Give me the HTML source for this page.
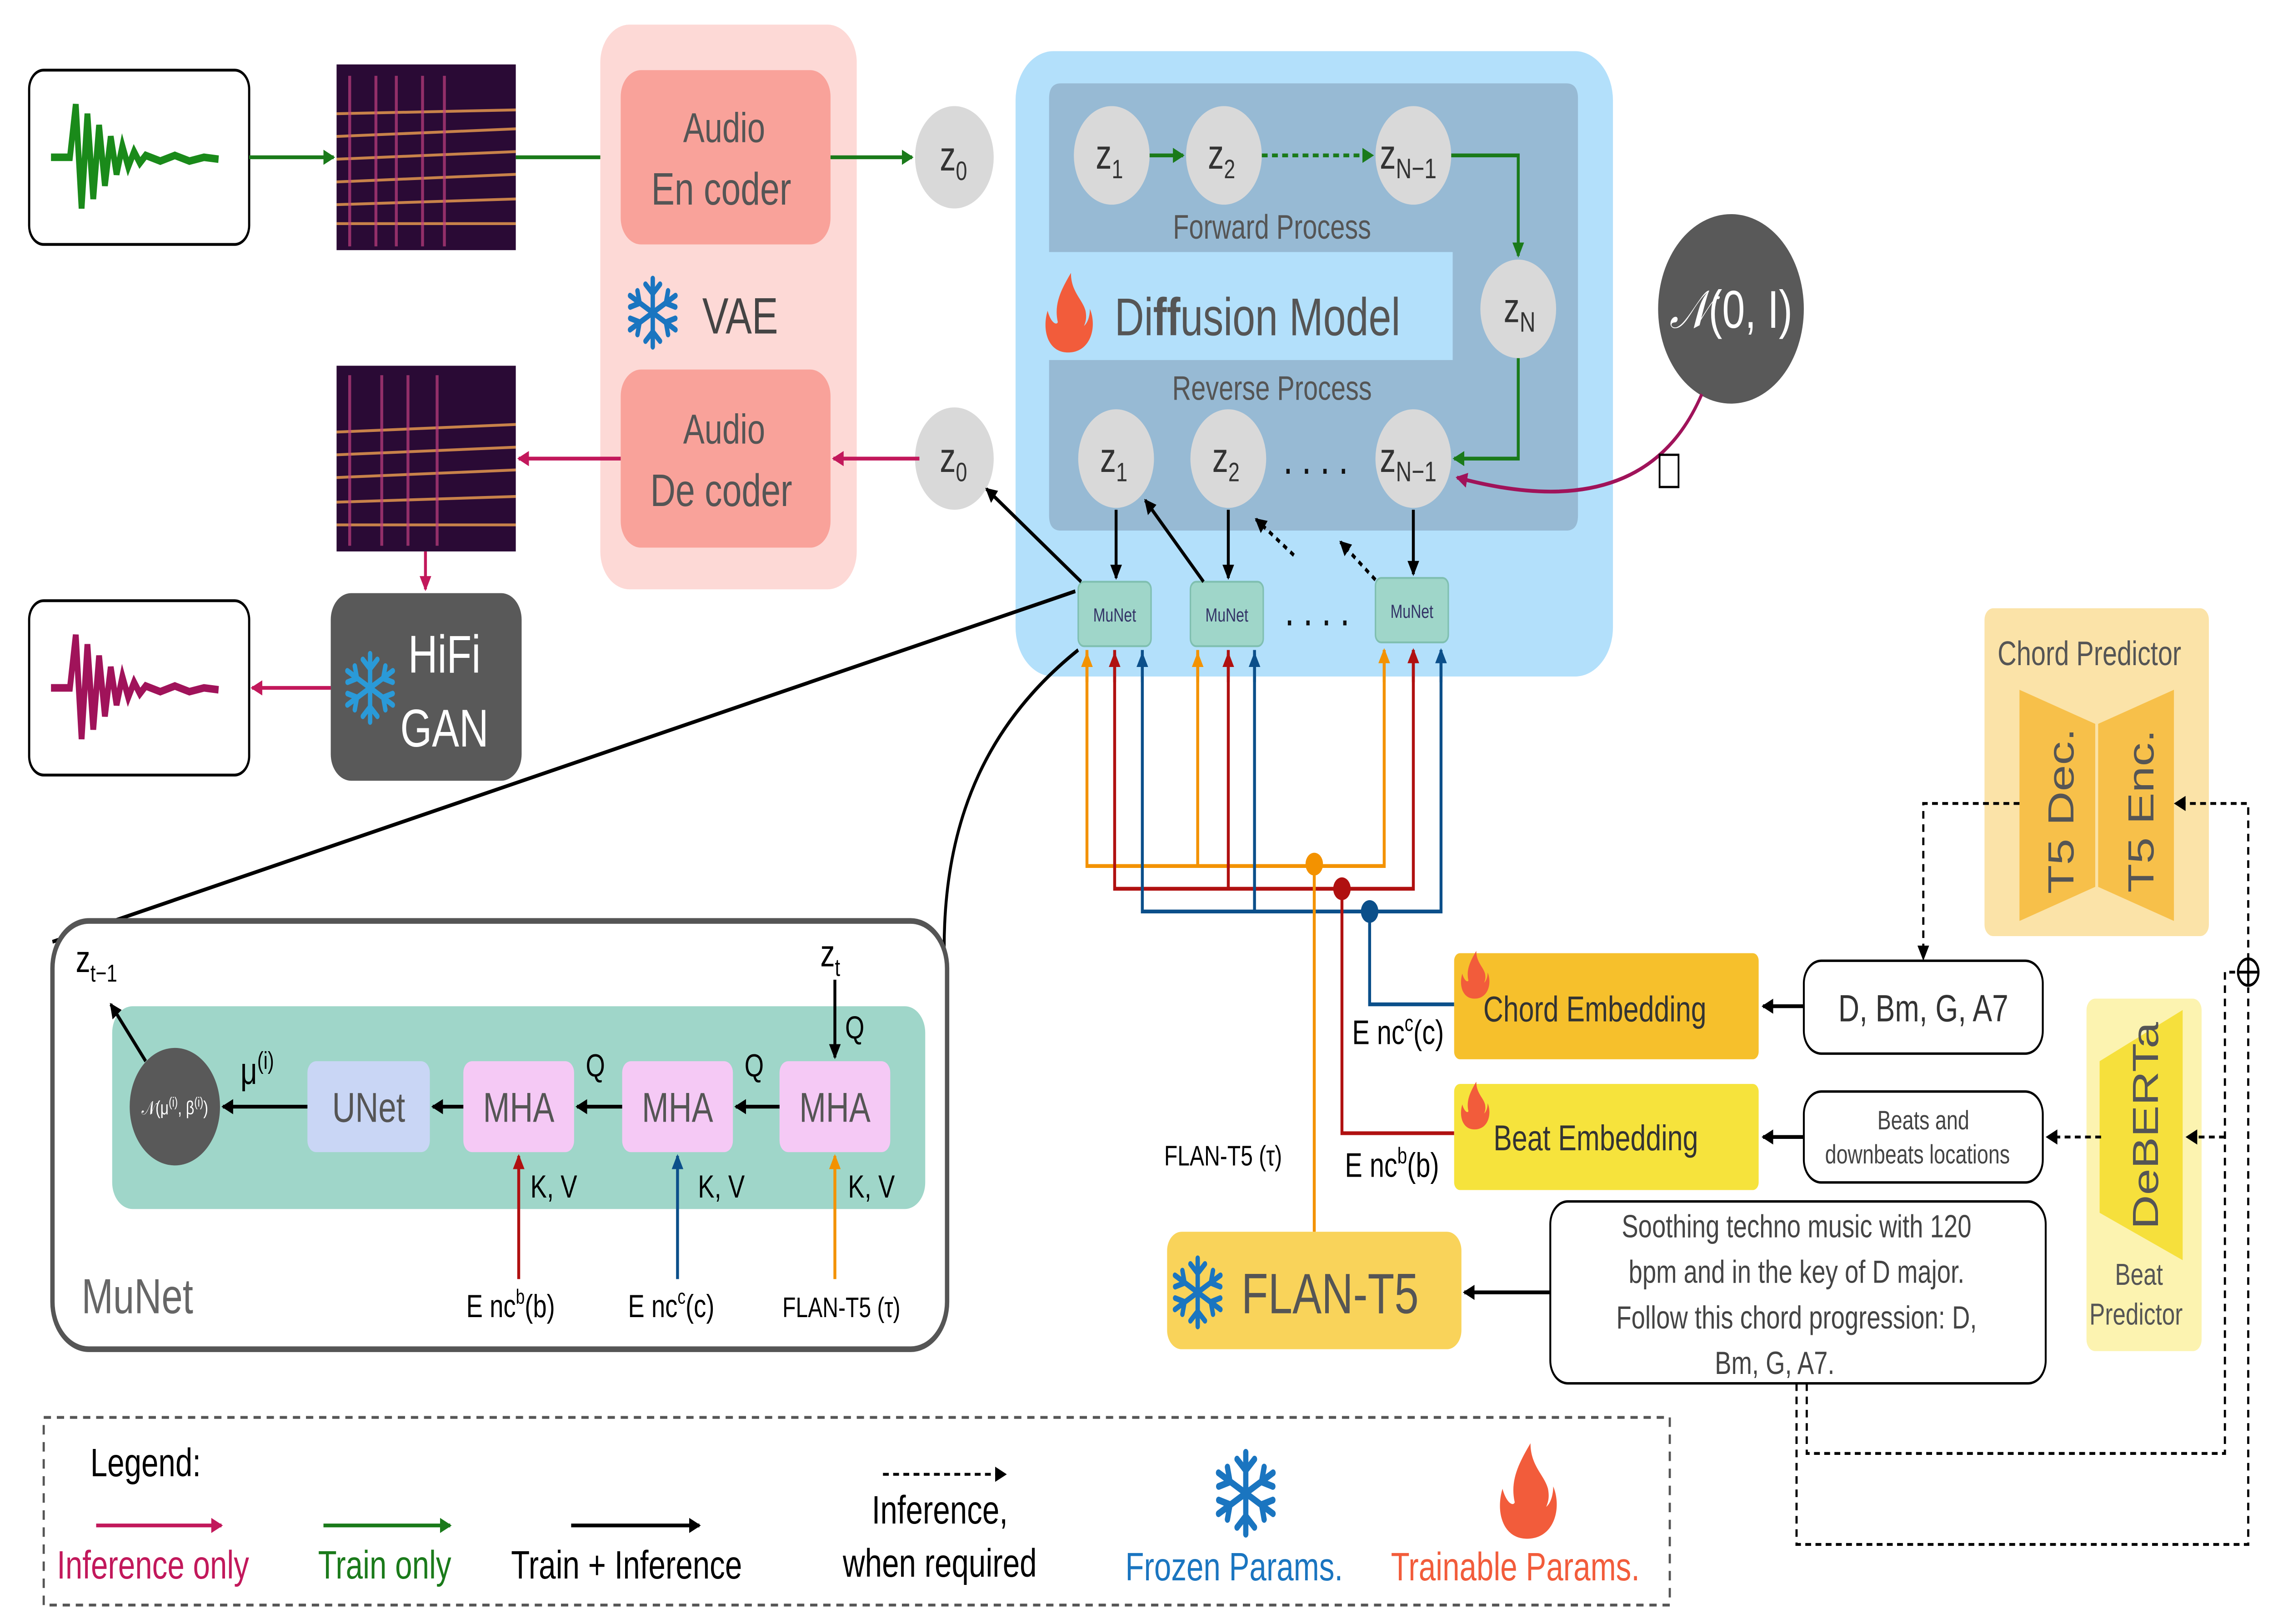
<!DOCTYPE html>
<html><head><meta charset="utf-8"><style>
html,body{margin:0;padding:0;background:#fff;width:100%;height:100%;overflow:hidden}
svg{display:block;position:fixed;left:0;top:0;width:100vw;height:100vh}
text{font-family:"Liberation Sans","DejaVu Sans",sans-serif}
</style></head><body>
<svg viewBox="0 0 1560 857" preserveAspectRatio="none" xmlns="http://www.w3.org/2000/svg">
<defs>
<marker id="ag" markerWidth="8" markerHeight="8" refX="7" refY="4" orient="auto" markerUnits="userSpaceOnUse"><path d="M0,0 L8,4 L0,8 z" fill="#1a7a1a"/></marker>
<marker id="ap" markerWidth="8" markerHeight="8" refX="7" refY="4" orient="auto" markerUnits="userSpaceOnUse"><path d="M0,0 L8,4 L0,8 z" fill="#c2185b"/></marker>
<marker id="ak" markerWidth="8" markerHeight="8" refX="7" refY="4" orient="auto" markerUnits="userSpaceOnUse"><path d="M0,0 L8,4 L0,8 z" fill="#000"/></marker>
<marker id="ao" markerWidth="8" markerHeight="8" refX="7" refY="4" orient="auto" markerUnits="userSpaceOnUse"><path d="M0,0 L8,4 L0,8 z" fill="#f39200"/></marker>
<marker id="ar" markerWidth="8" markerHeight="8" refX="7" refY="4" orient="auto" markerUnits="userSpaceOnUse"><path d="M0,0 L8,4 L0,8 z" fill="#b01010"/></marker>
<marker id="ab" markerWidth="8" markerHeight="8" refX="7" refY="4" orient="auto" markerUnits="userSpaceOnUse"><path d="M0,0 L8,4 L0,8 z" fill="#0b4f8a"/></marker>
<marker id="am" markerWidth="8" markerHeight="8" refX="7" refY="4" orient="auto" markerUnits="userSpaceOnUse"><path d="M0,0 L8,4 L0,8 z" fill="#a0135a"/></marker>
<g id="snow" stroke-linecap="round" fill="none" stroke-width="3">
<line x1="0" y1="-18" x2="0" y2="18"/><line x1="-15.6" y1="-9" x2="15.6" y2="9"/><line x1="-15.6" y1="9" x2="15.6" y2="-9"/>
<path d="M-5,-15 L0,-10 L5,-15 M-5,15 L0,10 L5,15 M-15.5,-3 L-9,-5 L-10.5,-11.5 M15.5,3 L9,5 L10.5,11.5 M-15.5,3 L-9,5 L-10.5,11.5 M15.5,-3 L9,-5 L10.5,-11.5"/>
</g>
<g id="flame"><path d="M0,20 C-14,20 -18,8 -14,-2 C-12,4 -8,6 -7,4 C-10,-6 -4,-14 2,-22 C2,-12 10,-8 12,-2 C13,2 12,4 11,6 C14,4 15,0 15,-3 C20,6 16,20 0,20 Z" fill="#f25c3b"/></g>
</defs>

<rect x="20" y="37" width="151" height="92" rx="10" fill="#fff" stroke="#000" stroke-width="1.5"/>
<path d="M35,83 L48,83 L52,55 L56,110 L60,60 L64,105 L68,66 L72,98 L76,72 L80,92 L84,77 L88,88 L92,80 L96,86 L100,82 L110,85 L120,82 L130,85 L140,83 L150,84" fill="none" stroke="#1a8a1a" stroke-width="4"/>
<rect x="231" y="34" width="123" height="98" fill="#2a0a35"/>
<g stroke="#f0a050" stroke-width="1.5" opacity="0.8">
<line x1="231" y1="118" x2="354" y2="118"/><line x1="231" y1="108" x2="354" y2="105"/><line x1="231" y1="96" x2="354" y2="92"/><line x1="231" y1="84" x2="354" y2="80"/><line x1="231" y1="72" x2="354" y2="68"/><line x1="231" y1="60" x2="354" y2="58"/>
</g>
<g stroke="#c04080" stroke-width="2" opacity="0.7">
<line x1="240" y1="40" x2="240" y2="130"/><line x1="258" y1="40" x2="258" y2="130"/><line x1="272" y1="40" x2="272" y2="130"/><line x1="290" y1="40" x2="290" y2="130"/><line x1="305" y1="40" x2="305" y2="130"/>
</g>
<line x1="171" y1="83" x2="229" y2="83" stroke="#1a7a1a" stroke-width="2" marker-end="url(#ag)"/>
<line x1="354" y1="83" x2="424" y2="83" stroke="#1a7a1a" stroke-width="2" marker-end="url(#ag)"/>

<rect x="412" y="13" width="176" height="298" rx="20" fill="#fdd9d6"/>
<rect x="426" y="37" width="144" height="92" rx="14" fill="#f9a29a"/>
<text x="497" y="75" font-size="22" fill="#555" text-anchor="middle">Audio</text>
<text x="495" y="108" font-size="24" fill="#555" text-anchor="middle">En coder</text>
<rect x="426" y="195" width="144" height="94" rx="14" fill="#f9a29a"/>
<text x="497" y="234" font-size="22" fill="#555" text-anchor="middle">Audio</text>
<text x="495" y="267" font-size="24" fill="#555" text-anchor="middle">De coder</text>
<use href="#snow" x="448" y="165" stroke="#1a75c0"/>
<text x="482" y="176" font-size="27" fill="#444">VAE</text>
<line x1="570" y1="83" x2="626" y2="83" stroke="#1a7a1a" stroke-width="2" marker-end="url(#ag)"/>

<rect x="697" y="27" width="410" height="330" rx="26" fill="#b3e0fb"/>
<path d="M728,44 H1075 Q1083,44 1083,52 V272 Q1083,280 1075,280 H728 Q720,280 720,272 V190 H997 V133 H720 V52 Q720,44 728,44 Z" fill="#97bad4"/>
<use href="#flame" x="733" y="166"/>
<text x="765" y="177" font-size="28" fill="#555">Di<tspan font-weight="bold">ff</tspan>usion  Model</text>
<text x="873" y="126" font-size="18" fill="#555" text-anchor="middle">Forward  Process</text>
<text x="873" y="211" font-size="18" fill="#555" text-anchor="middle">Reverse  Process</text>
<g fill="#d9d9d9">
<circle cx="655" cy="83" r="27"/><circle cx="763" cy="82" r="26"/><circle cx="840" cy="82" r="26"/><circle cx="970" cy="82" r="26"/><circle cx="1042" cy="163" r="26"/>
<circle cx="655" cy="242" r="27"/><circle cx="766" cy="242" r="26"/><circle cx="843" cy="242" r="26"/><circle cx="970" cy="242" r="26"/>
</g>
<g font-size="22" fill="#333">
<text x="645" y="90">z<tspan font-size="14" dy="5">0</tspan></text>
<text x="752" y="89">z<tspan font-size="14" dy="5">1</tspan></text>
<text x="829" y="89">z<tspan font-size="14" dy="5">2</tspan></text>
<text x="947" y="89">z<tspan font-size="15" dy="5">N−1</tspan></text>
<text x="1032" y="170">z<tspan font-size="15" dy="5">N</tspan></text>
<text x="645" y="249">z<tspan font-size="14" dy="5">0</tspan></text>
<text x="755" y="249">z<tspan font-size="14" dy="5">1</tspan></text>
<text x="832" y="249">z<tspan font-size="14" dy="5">2</tspan></text>
<text x="947" y="249">z<tspan font-size="15" dy="5">N−1</tspan></text>
</g>
<line x1="789" y1="82" x2="812" y2="82" stroke="#1a7a1a" stroke-width="2" marker-end="url(#ag)"/>
<line x1="866" y1="82" x2="942" y2="82" stroke="#1a7a1a" stroke-width="2" stroke-dasharray="4,3" marker-end="url(#ag)"/>
<polyline points="996,82 1042,82 1042,135" fill="none" stroke="#1a7a1a" stroke-width="2" marker-end="url(#ag)"/>
<polyline points="1042,189 1042,242 998,242" fill="none" stroke="#1a7a1a" stroke-width="2" marker-end="url(#ag)"/>
<text x="906" y="250" font-size="24" fill="#111" text-anchor="middle" letter-spacing="6">....</text>
<text x="907" y="330" font-size="24" fill="#111" text-anchor="middle" letter-spacing="6">....</text>
<circle cx="1188" cy="163" r="50" fill="#595959"/>
<text x="1188" y="173" font-size="28" fill="#fff" text-anchor="middle" font-family="Liberation Serif,serif"><tspan font-style="italic">𝒩</tspan>(0, I)</text>
<path d="M1168,208 C1150,240 1110,275 1000,252" fill="none" stroke="#a0135a" stroke-width="2" marker-end="url(#am)"/>
<rect x="1139" y="240" width="13" height="17" fill="none" stroke="#000" stroke-width="1.2"/>
<g fill="#9fd6c9" stroke="#7fbfb0"><rect x="740" y="307" width="50" height="34" rx="4"/><rect x="817" y="307" width="50" height="34" rx="4"/><rect x="944" y="305" width="50" height="34" rx="4"/></g>
<g font-size="10" fill="#336" text-anchor="middle"><text x="765" y="328">MuNet</text><text x="842" y="328">MuNet</text><text x="969" y="326">MuNet</text></g>
<line x1="766" y1="269" x2="766" y2="305" stroke="#000" stroke-width="2" marker-end="url(#ak)"/>
<line x1="843" y1="269" x2="843" y2="305" stroke="#000" stroke-width="2" marker-end="url(#ak)"/>
<line x1="970" y1="269" x2="970" y2="303" stroke="#000" stroke-width="2" marker-end="url(#ak)"/>
<line x1="742" y1="307" x2="677" y2="258" stroke="#000" stroke-width="2" marker-end="url(#ak)"/>
<line x1="826" y1="307" x2="786" y2="264" stroke="#000" stroke-width="2" marker-end="url(#ak)"/>
<line x1="888" y1="293" x2="862" y2="274" stroke="#000" stroke-width="2" stroke-dasharray="3,3" marker-end="url(#ak)"/>
<line x1="944" y1="306" x2="920" y2="286" stroke="#000" stroke-width="2" stroke-dasharray="3,3" marker-end="url(#ak)"/>
<line x1="631" y1="242" x2="572" y2="242" stroke="#c2185b" stroke-width="2" marker-end="url(#ap)"/>
<line x1="426" y1="242" x2="356" y2="242" stroke="#c2185b" stroke-width="2" marker-end="url(#ap)"/>

<rect x="231" y="193" width="123" height="98" fill="#2a0a35"/>
<g stroke="#f0a050" stroke-width="1.5" opacity="0.8">
<line x1="231" y1="277" x2="354" y2="277"/><line x1="231" y1="265" x2="354" y2="262"/><line x1="231" y1="252" x2="354" y2="248"/><line x1="231" y1="240" x2="354" y2="236"/><line x1="231" y1="228" x2="354" y2="224"/>
</g>
<g stroke="#c04080" stroke-width="2" opacity="0.7"><line x1="240" y1="198" x2="240" y2="288"/><line x1="262" y1="198" x2="262" y2="288"/><line x1="280" y1="198" x2="280" y2="288"/><line x1="300" y1="198" x2="300" y2="288"/></g>
<line x1="292" y1="291" x2="292" y2="311" stroke="#c2185b" stroke-width="2" marker-end="url(#ap)"/>
<rect x="227" y="313" width="131" height="99" rx="14" fill="#595959"/>
<use href="#snow" x="254" y="363" stroke="#2a9ad8"/>
<text x="305" y="355" font-size="28" fill="#fff" text-anchor="middle">HiFi</text>
<text x="305" y="394" font-size="28" fill="#fff" text-anchor="middle">GAN</text>
<line x1="227" y1="363" x2="173" y2="363" stroke="#c2185b" stroke-width="2" marker-end="url(#ap)"/>
<rect x="20" y="317" width="151" height="92" rx="10" fill="#fff" stroke="#000" stroke-width="1.5"/>
<path d="M35,363 L48,363 L52,335 L56,390 L60,340 L64,385 L68,346 L72,378 L76,352 L80,372 L84,357 L88,368 L92,360 L96,366 L100,362 L110,365 L120,362 L130,365 L140,363 L150,364" fill="none" stroke="#a0135a" stroke-width="4"/>

<path d="M738,312 L36,497" stroke="#000" stroke-width="2" fill="none"/>
<path d="M740,343 C680,380 648,430 648,500" stroke="#000" stroke-width="2" fill="none"/>
<rect x="36" y="486" width="614" height="226" rx="25" fill="#fff" stroke="#555" stroke-width="3"/>
<rect x="77" y="531" width="558" height="107" rx="14" fill="#9fd6c9"/>
<circle cx="120" cy="584" r="31" fill="#595959"/>
<text x="120" y="588" font-size="10" fill="#fff" text-anchor="middle" font-family="Liberation Serif,serif">𝒩(μ<tspan font-size="7" dy="-4">(i)</tspan><tspan dy="4">, β</tspan><tspan font-size="7" dy="-4">(i)</tspan><tspan dy="4">)</tspan></text>
<rect x="211" y="560" width="84" height="48" rx="6" fill="#c9d6f5"/>
<text x="253" y="592" font-size="22" fill="#555" text-anchor="middle">UNet</text>
<g fill="#f5c9f5"><rect x="318" y="560" width="76" height="48" rx="6"/><rect x="427" y="560" width="76" height="48" rx="6"/><rect x="535" y="560" width="76" height="48" rx="6"/></g>
<g font-size="22" fill="#555" text-anchor="middle"><text x="356" y="592">MHA</text><text x="465" y="592">MHA</text><text x="573" y="592">MHA</text></g>
<line x1="211" y1="584" x2="153" y2="584" stroke="#000" stroke-width="2" marker-end="url(#ak)"/>
<line x1="318" y1="584" x2="297" y2="584" stroke="#000" stroke-width="2" marker-end="url(#ak)"/>
<line x1="427" y1="584" x2="396" y2="584" stroke="#000" stroke-width="2" marker-end="url(#ak)"/>
<line x1="535" y1="584" x2="505" y2="584" stroke="#000" stroke-width="2" marker-end="url(#ak)"/>
<line x1="573" y1="517" x2="573" y2="558" stroke="#000" stroke-width="2" marker-end="url(#ak)"/>
<line x1="100" y1="560" x2="76" y2="530" stroke="#000" stroke-width="2" marker-end="url(#ak)"/>
<text x="165" y="572" font-size="20" fill="#000">μ<tspan font-size="13" dy="-8">(i)</tspan></text>
<text x="402" y="568" font-size="17">Q</text><text x="511" y="568" font-size="17">Q</text><text x="580" y="548" font-size="17">Q</text>
<text x="364" y="632" font-size="17">K, V</text><text x="479" y="632" font-size="17">K, V</text><text x="582" y="632" font-size="17">K, V</text>
<text x="52" y="513" font-size="20">z<tspan font-size="13" dy="5">t−1</tspan></text>
<text x="563" y="510" font-size="20">z<tspan font-size="13" dy="5">t</tspan></text>
<line x1="356" y1="675" x2="356" y2="610" stroke="#b01010" stroke-width="2" marker-end="url(#ar)"/>
<line x1="465" y1="675" x2="465" y2="610" stroke="#0b4f8a" stroke-width="2" marker-end="url(#ab)"/>
<line x1="573" y1="675" x2="573" y2="610" stroke="#f39200" stroke-width="2" marker-end="url(#ao)"/>
<text x="320" y="695" font-size="17">E nc<tspan font-size="11" dy="-7">b</tspan><tspan dy="7">(b)</tspan></text>
<text x="431" y="695" font-size="17">E nc<tspan font-size="11" dy="-7">c</tspan><tspan dy="7">(c)</tspan></text>
<text x="537" y="695" font-size="15">FLAN-T5  (τ)</text>
<text x="56" y="693" font-size="26" fill="#666">MuNet</text>

<g fill="none" stroke-width="2">
<polyline points="746,343 746,457 950,457 950,343" stroke="#f39200"/>
<line x1="822" y1="457" x2="822" y2="343" stroke="#f39200"/>
<polyline points="765,343 765,469 970,469 970,343" stroke="#b01010"/>
<line x1="843" y1="469" x2="843" y2="343" stroke="#b01010"/>
<polyline points="784,343 784,481 989,481 989,343" stroke="#0b4f8a"/>
<line x1="861" y1="481" x2="861" y2="343" stroke="#0b4f8a"/>
<line x1="902" y1="457" x2="902" y2="650" stroke="#f39200"/>
<polyline points="921,469 921,598 998,598" stroke="#b01010"/>
<polyline points="940,481 940,530 998,530" stroke="#0b4f8a"/>
</g>
<g stroke-width="2"><line x1="746" y1="360" x2="746" y2="345" stroke="#f39200" marker-end="url(#ao)"/><line x1="822" y1="360" x2="822" y2="345" stroke="#f39200" marker-end="url(#ao)"/><line x1="950" y1="360" x2="950" y2="343" stroke="#f39200" marker-end="url(#ao)"/>
<line x1="765" y1="360" x2="765" y2="345" stroke="#b01010" marker-end="url(#ar)"/><line x1="843" y1="360" x2="843" y2="345" stroke="#b01010" marker-end="url(#ar)"/><line x1="970" y1="360" x2="970" y2="343" stroke="#b01010" marker-end="url(#ar)"/>
<line x1="784" y1="360" x2="784" y2="345" stroke="#0b4f8a" marker-end="url(#ab)"/><line x1="861" y1="360" x2="861" y2="345" stroke="#0b4f8a" marker-end="url(#ab)"/><line x1="989" y1="360" x2="989" y2="343" stroke="#0b4f8a" marker-end="url(#ab)"/></g>
<circle cx="902" cy="456" r="6" fill="#f39200"/><circle cx="921" cy="469" r="6" fill="#b01010"/><circle cx="940" cy="481" r="6" fill="#0b4f8a"/>
<text x="928" y="551" font-size="18">E nc<tspan font-size="12" dy="-7">c</tspan><tspan dy="7">(c)</tspan></text>
<text x="923" y="621" font-size="18">E nc<tspan font-size="12" dy="-7">b</tspan><tspan dy="7">(b)</tspan></text>
<text x="799" y="615" font-size="15">FLAN-T5  (τ)</text>

<rect x="998" y="503" width="209" height="56" rx="4" fill="#f6c02c"/>
<use href="#flame" transform="translate(1012,515) scale(0.6)"/>
<text x="1018" y="539" font-size="19" fill="#333">Chord Embedding</text>
<rect x="998" y="572" width="209" height="56" rx="4" fill="#f6e33c"/>
<use href="#flame" transform="translate(1012,584) scale(0.6)"/>
<text x="1025" y="607" font-size="19" fill="#333">Beat Embedding</text>
<rect x="1238" y="507" width="164" height="49" rx="12" fill="#fff" stroke="#000" stroke-width="1.3"/>
<text x="1320" y="539" font-size="20" fill="#333" text-anchor="middle">D,  Bm,  G,  A7</text>
<rect x="1238" y="576" width="164" height="48" rx="12" fill="#fff" stroke="#000" stroke-width="1.3"/>
<text x="1320" y="596" font-size="14" fill="#444" text-anchor="middle">Beats   and</text>
<text x="1316" y="614" font-size="14" fill="#444" text-anchor="middle">downbeats   locations</text>
<line x1="1238" y1="531" x2="1210" y2="531" stroke="#000" stroke-width="2" marker-end="url(#ak)"/>
<line x1="1238" y1="600" x2="1210" y2="600" stroke="#000" stroke-width="2" marker-end="url(#ak)"/>

<rect x="801" y="650" width="202" height="62" rx="10" fill="#f9d35a"/>
<use href="#snow" x="822" y="682" stroke="#1a75c0"/>
<text x="852" y="693" font-size="30" fill="#555">FLAN-T5</text>
<rect x="1064" y="634" width="340" height="96" rx="12" fill="#fff" stroke="#000" stroke-width="1.3"/>
<g font-size="17" fill="#444" text-anchor="middle">
<text x="1233" y="653">Soothing  techno  music  with  120</text>
<text x="1233" y="677">bpm and  in the  key  of  D major.</text>
<text x="1233" y="701">Follow  this  chord  progression:   D,</text>
<text x="1218" y="725">Bm,  G,  A7.</text></g>
<line x1="1064" y1="682" x2="1005" y2="682" stroke="#000" stroke-width="2" marker-end="url(#ak)"/>

<rect x="1362" y="321" width="154" height="173" rx="6" fill="#fbe3a8"/>
<text x="1434" y="351" font-size="18" fill="#555" text-anchor="middle">Chord  Predictor</text>
<path d="M1386,364 L1438,382 L1438,468 L1386,486 Z" fill="#f7c04a"/>
<path d="M1492,364 L1440,382 L1440,468 L1492,486 Z" fill="#f7c04a"/>
<text transform="translate(1423,428) rotate(-90)" font-size="25" fill="#555" text-anchor="middle">T5 Dec.</text>
<text transform="translate(1478,428) rotate(-90)" font-size="25" fill="#555" text-anchor="middle">T5 Enc.</text>
<rect x="1432" y="527" width="79" height="186" rx="6" fill="#fcf3b0"/>
<path d="M1441,560 L1498,533 L1498,665 L1441,640 Z" fill="#f6e03c"/>
<text transform="translate(1481,594) rotate(-90)" font-size="25" fill="#555" text-anchor="middle">DeBERTa</text>
<text x="1468" y="678" font-size="16" fill="#555" text-anchor="middle">Beat</text>
<text x="1466" y="699" font-size="16" fill="#555" text-anchor="middle">Predictor</text>

<g fill="none" stroke="#000" stroke-width="1.5" stroke-dasharray="4,3">
<polyline points="1386,424 1320,424 1320,505"/>
<polyline points="1543,507 1543,424 1494,424"/>
<polyline points="1233,730 1233,815 1543,815 1543,521"/>
<polyline points="1240,730 1240,767 1527,767 1527,513 1537,513"/>
<polyline points="1527,600 1502,600"/>
<polyline points="1442,600 1408,600"/>
</g>
<polygon points="1320,507 1316,499 1324,499" fill="#000"/>
<polygon points="1492,424 1500,420 1500,428" fill="#000"/>
<polygon points="1404,600 1412,596 1412,604" fill="#000"/>
<polygon points="1500,600 1508,596 1508,604" fill="#000"/>
<circle cx="1543" cy="513" r="7" fill="#fff" stroke="#000" stroke-width="1.5"/>
<line x1="1536" y1="513" x2="1550" y2="513" stroke="#000" stroke-width="1.5"/><line x1="1543" y1="506" x2="1543" y2="520" stroke="#000" stroke-width="1.5"/>

<rect x="30" y="748" width="1116" height="99" fill="none" stroke="#555" stroke-width="1.5" stroke-dasharray="5,4"/>
<text x="62" y="779" font-size="21">Legend:</text>
<line x1="66" y1="805" x2="152" y2="805" stroke="#c2185b" stroke-width="2" marker-end="url(#ap)"/>
<text x="105" y="833" font-size="21" fill="#c2185b" text-anchor="middle">Inference only</text>
<line x1="222" y1="805" x2="309" y2="805" stroke="#1a7a1a" stroke-width="2" marker-end="url(#ag)"/>
<text x="264" y="833" font-size="21" fill="#1a7a1a" text-anchor="middle">Train only</text>
<line x1="392" y1="805" x2="480" y2="805" stroke="#000" stroke-width="2" marker-end="url(#ak)"/>
<text x="430" y="833" font-size="21" text-anchor="middle">Train + Inference</text>
<line x1="606" y1="778" x2="690" y2="778" stroke="#000" stroke-width="1.5" stroke-dasharray="4,3" marker-end="url(#ak)"/>
<text x="645" y="804" font-size="21" text-anchor="middle">Inference,</text>
<text x="645" y="832" font-size="21" text-anchor="middle">when required</text>
<use href="#snow" transform="translate(855,788) scale(1.2)" stroke="#1a75c0"/>
<text x="847" y="834" font-size="21" fill="#1a75c0" text-anchor="middle">Frozen Params.</text>
<use href="#flame" transform="translate(1048,788) scale(1.2)"/>
<text x="1040" y="834" font-size="21" fill="#f25c3b" text-anchor="middle">Trainable Params.</text>
</svg>
</body></html>
